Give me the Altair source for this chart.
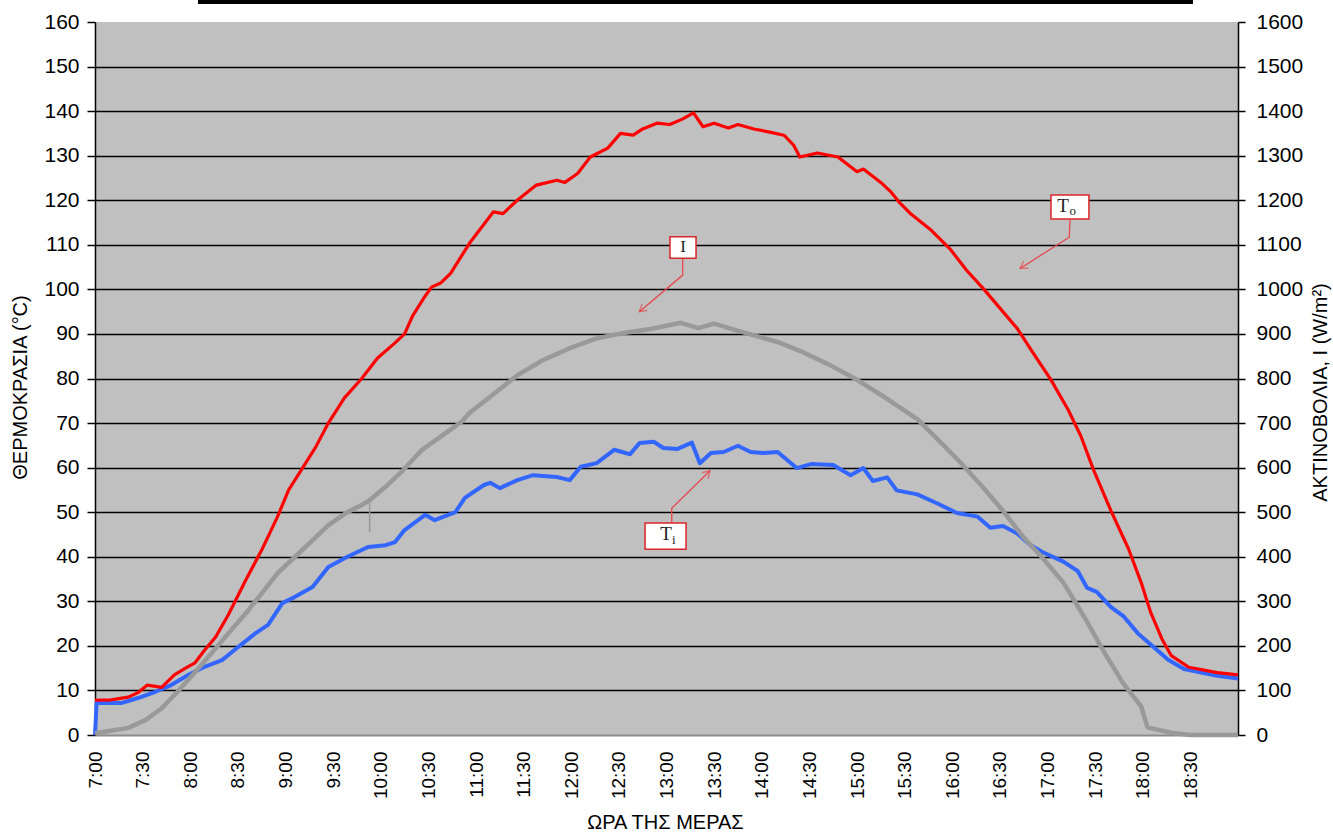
import altair as alt
import pandas as pd

# ---- measured series (minutes after midnight) ----
to_min = [420, 430, 441, 447, 453, 462, 470, 477, 483, 489, 496, 504, 515, 525, 535, 542,
          550, 559, 567, 577, 588, 598, 609, 615, 620, 627, 632, 638, 644, 656, 671, 677,
          686, 698, 711, 716, 724, 732, 743, 751, 759, 765, 774, 782, 790, 797, 803, 810,
          819, 825, 835, 845, 854, 860, 864, 875, 888, 900, 904, 915, 921, 927, 934, 946,
          959, 969, 980, 990, 1001, 1011, 1022, 1033, 1041, 1049, 1060, 1071, 1079, 1085,
          1092, 1098, 1109, 1127, 1140]
to_val = [7.8, 7.9, 8.5, 9.5, 11.2, 10.7, 13.5, 15.0, 16.2, 19.0, 22.0, 27.0, 34.8, 41.5,
          49.0, 55.0, 59.5, 64.6, 70.0, 75.6, 80.0, 84.6, 88.0, 90.0, 94.0, 98.0, 100.5,
          101.5, 103.6, 110.4, 117.4, 117.0, 120.0, 123.4, 124.5, 124.0, 126.0, 129.7,
          131.7, 135.0, 134.6, 136.0, 137.3, 137.0, 138.2, 139.6, 136.5, 137.3, 136.2,
          137.0, 136.0, 135.3, 134.6, 132.4, 129.7, 130.6, 129.7, 126.4, 127.0, 124.0,
          122.0, 119.4, 116.9, 113.5, 108.9, 104.3, 100.0, 95.8, 91.2, 85.7, 79.8, 73.0,
          67.1, 59.5, 50.3, 41.8, 34.2, 27.5, 21.6, 17.8, 15.2, 14.0, 13.5]

ti_min = [420, 421, 437, 447, 458, 468, 479, 489, 500, 510, 521, 529, 538, 546, 557, 567,
          579, 592, 603, 609, 615, 628, 634, 647, 653, 665, 669, 675, 686, 696, 711, 719,
          726, 736, 747, 757, 763, 772, 778, 787, 796, 801, 808, 816, 825, 833, 841, 850,
          862, 871, 885, 896, 904, 910, 919, 925, 938, 951, 963, 976, 984, 992, 1001, 1009,
          1017, 1030, 1039, 1045, 1051, 1060, 1068, 1077, 1085, 1096, 1106, 1127, 1140]
ti_val = [0.0, 7.2, 7.2, 8.3, 9.7, 11.2, 13.5, 15.3, 16.8, 19.7, 22.8, 24.7, 29.6, 31.0,
          33.2, 37.7, 40.0, 42.2, 42.6, 43.3, 46.0, 49.4, 48.2, 50.0, 53.2, 56.1, 56.6,
          55.4, 57.2, 58.3, 57.9, 57.2, 60.2, 61.0, 64.0, 63.0, 65.5, 65.8, 64.4, 64.2,
          65.6, 61.0, 63.3, 63.5, 64.9, 63.5, 63.3, 63.5, 59.9, 60.8, 60.6, 58.3, 59.9,
          57.0, 57.8, 54.9, 54.0, 51.9, 49.8, 49.0, 46.5, 46.9, 45.2, 42.7, 41.0, 38.9,
          36.8, 33.0, 32.1, 28.7, 26.6, 22.8, 20.3, 16.9, 14.8, 13.3, 12.7]

irr_min = [420, 441, 452, 462, 472, 483, 494, 504, 515, 525, 535, 546, 557, 567, 579, 588,
           593, 603, 614, 626, 639, 651, 656, 669, 686, 702, 719, 736, 753, 770,
           789, 800, 810, 823, 838, 850, 866, 883, 900, 917, 938, 951, 965, 980, 992, 1005,
           1017, 1030, 1043, 1055, 1068, 1079, 1083, 1098, 1110, 1140]
irr_val = [4, 16, 34, 60, 97, 141, 186, 228, 273, 318, 363, 400, 437, 471, 500, 516,
           527, 557, 594, 640, 673, 703, 723, 759, 807, 841, 868, 890, 902, 911,
           925, 913, 923, 909, 894, 882, 859, 830, 797, 759, 709, 663, 612, 553, 503, 443,
           397, 342, 266, 190, 114, 64, 17, 5, 0, 0]

# single dropped reading in the radiation record (thin spike)
spike_min = [593, 593]
spike_val = [527, 455]

# ---- axes ----
time_ticks = list(range(420, 1111, 30))
temp_ticks = list(range(0, 161, 10))
irr_ticks = list(range(0, 1601, 100))

# ---- callouts: label, box extents, text anchors, leader lines ----
box_x0 = [782.2, 1022.2, 766.5]
box_x1 = [798.6, 1046.1, 792.3]
box_y0 = [107.0, 115.8, 41.7]
box_y1 = [111.8, 121.2, 47.6]

main_txt = ["I", "T", "T"]
main_m = [790.4, 1029.8, 779.7]
main_v = [109.6, 118.8, 45.0]
main_size = [17, 19, 19]
sub_txt = ["o", "i"]
sub_m = [1035.9, 784.6]
sub_v = [117.6, 43.8]

lead_grp = ["I", "I", "I", "To", "To", "To", "Ti", "Ti", "Ti"]
lead_ord = [0, 1, 2, 0, 1, 2, 0, 1, 2]
lead_m = [790.2, 790.2, 762.9, 1034.2, 1033.7, 1002.7, 783.3, 783.3, 807.4]
lead_v = [107.1, 103.2, 95.0, 115.7, 111.7, 104.7, 47.6, 50.9, 59.3]
head_m = [762.9, 1002.7, 807.4]
head_v = [95.0, 104.7, 59.3]
head_angle = [139.8, 147.8, 315.5]

FONT = "Liberation Sans"
SERIF = "Liberation Serif"

to_df = pd.DataFrame({"m": to_min, "v": to_val})
ti_df = pd.DataFrame({"m": ti_min, "v": ti_val})
irr_df = pd.DataFrame({"m": irr_min, "r": irr_val})
spike_df = pd.DataFrame({"m": spike_min, "r": spike_val})
box_df = pd.DataFrame({"m": box_x0, "m2": box_x1, "v": box_y0, "v2": box_y1})
main_df = pd.DataFrame({"m": main_m, "v": main_v, "t": main_txt, "s": main_size})
sub_df = pd.DataFrame({"m": sub_m, "v": sub_v, "t": sub_txt})
lead_df = pd.DataFrame({"m": lead_m, "v": lead_v, "g": lead_grp, "o": lead_ord})
head_df = pd.DataFrame({"m": head_m, "v": head_v, "a": head_angle})

x_enc = alt.X(
    "m:Q",
    scale=alt.Scale(domain=[420, 1140], nice=False, zero=False),
    axis=alt.Axis(
        values=time_ticks,
        labelExpr="floor(datum.value / 60) + ':' + (datum.value % 60 == 0 ? '00' : '30')",
        labelAngle=270, labelAlign="right", labelBaseline="middle",
        labelPadding=16, labelFontSize=19, labelFlush=False, labelOverlap=False,
        ticks=False, grid=False, domainColor="#8c8c8c", domainWidth=2,
        title="ΩΡΑ ΤΗΣ ΜΕΡΑΣ", titleFontSize=20, titleX=570, titleY=87,
        titleAlign="center", titleBaseline="middle",
    ),
)

y_temp = alt.Y(
    "v:Q",
    scale=alt.Scale(domain=[0, 160], nice=False),
    axis=alt.Axis(
        values=temp_ticks, grid=True, gridColor="black", gridWidth=1.6,
        gridOpacity={"condition": {"test": "datum.value == 0 || datum.value == 160", "value": 0}, "value": 1},
        domainColor="black", domainWidth=1.5, tickColor="black", tickSize=8, tickWidth=1.5,
        labelFontSize=21, labelPadding=8, labelOverlap=False, labelFlush=False,
        title="ΘΕΡΜΟΚΡΑΣΙΑ (°C)", titleFontSize=20, titleAngle=270,
        titleX=-75, titleY=365, titleAlign="center", titleBaseline="middle",
    ),
)

y_irr = alt.Y(
    "r:Q",
    scale=alt.Scale(domain=[0, 1600], nice=False),
    axis=alt.Axis(
        orient="right", values=irr_ticks, format="d", grid=False,
        domainColor="black", domainWidth=1.5, tickColor="black", tickSize=7, tickWidth=1.5,
        labelFontSize=21, labelPadding=11, labelOverlap=False, labelFlush=False,
        title="ΑΚΤΙΝΟΒΟΛΙΑ, I (W/m²)", titleFontSize=20, titleAngle=270,
        titleX=82, titleY=370, titleAlign="center", titleBaseline="middle",
    ),
)

# callouts live on the temperature scale but draw no axis of their own
y_plain = alt.Y("v:Q", scale=alt.Scale(domain=[0, 160], nice=False), axis=None)

blue = alt.Chart(ti_df).mark_line(color="#3366FF", strokeWidth=4, strokeJoin="round").encode(
    x=x_enc, y=y_temp)
red = alt.Chart(to_df).mark_line(color="#FF0000", strokeWidth=3.2, strokeJoin="round").encode(
    x=x_enc, y=y_temp)

leaders = alt.Chart(lead_df).mark_line(color="#E8474C", strokeWidth=1.3).encode(
    x=x_enc, y=y_plain, detail="g:N", order="o:Q")
heads = alt.Chart(head_df).mark_point(
    shape="M-1,-0.6L0,0L-1,0.6", filled=False, color="#E8474C", strokeWidth=1.3, size=200
).encode(x=x_enc, y=y_plain, angle=alt.Angle("a:Q", scale=None))
boxes = alt.Chart(box_df).mark_rect(fill="white", stroke="#D9262B", strokeWidth=1.5).encode(
    x=x_enc, x2="m2:Q", y=y_plain, y2="v2:Q")
main_text = alt.Chart(main_df).mark_text(font=SERIF, color="#222222", baseline="middle",
                                         align="center").encode(
    x=x_enc, y=y_plain, text="t:N", size=alt.Size("s:Q", scale=None))
sub_text = alt.Chart(sub_df).mark_text(font=SERIF, color="#222222", baseline="middle",
                                       align="center", fontSize=13).encode(
    x=x_enc, y=y_plain, text="t:N")

top_bar = alt.Chart(alt.Data(values=[{}])).mark_rule(color="black", strokeWidth=4).encode(
    x=alt.value(103), x2=alt.value(1098), y=alt.value(-20))

temp_layer = alt.layer(blue, red)
irr_line = alt.Chart(irr_df).mark_line(color="#999999", strokeWidth=4.5, strokeJoin="round").encode(
    x=x_enc, y=y_irr)
irr_spike = alt.Chart(spike_df).mark_line(color="#999999", strokeWidth=1.5).encode(
    x=x_enc, y=alt.Y("r:Q"))
irr_layer = alt.layer(irr_line, irr_spike)
callouts = alt.layer(leaders, heads, boxes, main_text, sub_text, top_bar)

chart = alt.layer(temp_layer, irr_layer, callouts).resolve_scale(y="independent").properties(
    width=1143, height=713,
    autosize=alt.AutoSizeParams(type="none"),
    padding={"left": 95, "top": 22, "right": 95, "bottom": 101},
).configure_view(fill="#C0C0C0", strokeWidth=0).configure_axis(
    labelFont=FONT, titleFont=FONT, labelColor="black", titleColor="black",
    titleFontWeight="normal",
)

chart.save("out.html", embed_options={"renderer": "svg", "actions": False})
